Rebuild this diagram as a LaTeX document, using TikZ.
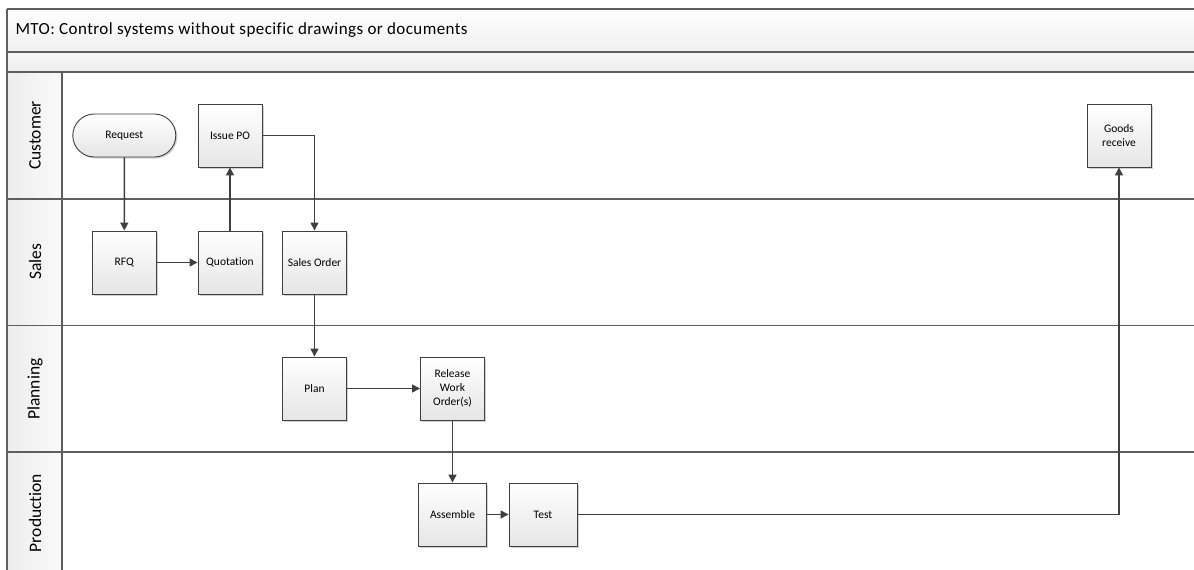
\documentclass[tikz,border=0pt]{standalone}
\usepackage{fontspec}
\setmainfont[Ligatures={NoCommon}]{Carlito}
\newfontfamily\titlefont[Ligatures={NoCommon},LetterSpace=2.5]{Carlito}
\usetikzlibrary{arrows.meta,shadows,shapes.misc}
\definecolor{lineg}{HTML}{404040}
\definecolor{frameg}{HTML}{5E5E5E}
\tikzset{
  proc/.style={draw=lineg, line width=0.9pt, top color=white, bottom color=gray!20,
    minimum width=64pt, minimum height=63pt, inner sep=1pt, align=center,
    font=\fontsize{11.5}{14}\selectfont,
    drop shadow={shadow xshift=1.5pt, shadow yshift=-1.5pt, fill=gray!45, opacity=0.8}},
  term/.style={proc, rounded rectangle, minimum width=105pt, minimum height=43pt},
  flow/.style={draw=lineg, line width=1.4pt, -{Triangle[length=8pt,width=8pt]}},
  lanelabel/.style={rotate=90, font=\fontsize{17.5}{20}\selectfont, text=black},
  laneline/.style={draw=frameg, line width=1.3pt}
}
\begin{document}
\begin{tikzpicture}[x=1pt,y=-1pt]
\useasboundingbox (0,0) rectangle (1194,570);
\fill[white] (0,0) rectangle (1194,570);
% title band
\shade[top color=white, bottom color=gray!12] (7,9) rectangle (1194,52);
\shade[top color=gray!5, bottom color=gray!15] (7,52) rectangle (1194,72);
\shade[left color=gray!14, right color=gray!4] (7,72) rectangle (62,570);
\node[anchor=west, font=\titlefont\fontsize{17}{20}\selectfont] (title) at (12,30.5) {MTO: Control systems without specific drawings or documents};
% frame lines
\draw[laneline] (7,9) -- (1194,9);
\draw[laneline] (7,52) -- (1194,52);
\draw[laneline] (7,72) -- (1194,72);
\draw[laneline] (7,199) -- (1194,199);
\draw[laneline] (7,325.5) -- (1194,325.5);
\draw[laneline] (7,452) -- (1194,452);
\draw[laneline] (7,9) -- (7,570);
\draw[laneline] (62,72) -- (62,570);
% lane labels
\node[lanelabel] (lcust) at (35,135.5) {Customer};
\node[lanelabel] (lsales) at (35,262) {Sales};
\node[lanelabel] (lplan) at (35,389) {Planning};
\node[lanelabel] (lprod) at (35,513) {Production};
% nodes
\node[term] (req) at (124.3,135.5) {Request};
\node[proc] (po) at (230,135.5) {Issue PO};
\node[proc] (gr) at (1119,135.5) {Goods\\receive};
\node[proc] (rfq) at (124.3,262.5) {RFQ};
\node[proc] (quo) at (230,262.5) {Quotation};
\node[proc] (so) at (314.5,262.5) {Sales Order};
\node[proc] (plan) at (314.5,388.5) {Plan};
\node[proc] (rel) at (452.5,388.5) {Release\\Work\\Order(s)};
\node[proc, minimum width=68pt] (asm) at (452.5,514.5) {Assemble};
\node[proc, minimum width=68pt] (test) at (543,514.5) {Test};
% connectors
\draw[flow] (req) -- (rfq);
\draw[flow] (rfq) -- (quo);
\draw[flow] (quo) -- (po);
\draw[flow] (po.east) -| (so.north);
\draw[flow] (so) -- (plan);
\draw[flow] (plan) -- (rel);
\draw[flow] (rel) -- (asm);
\draw[flow] (asm) -- (test);
\draw[flow] (test.east) -| (gr.south);
\end{tikzpicture}
\end{document}
